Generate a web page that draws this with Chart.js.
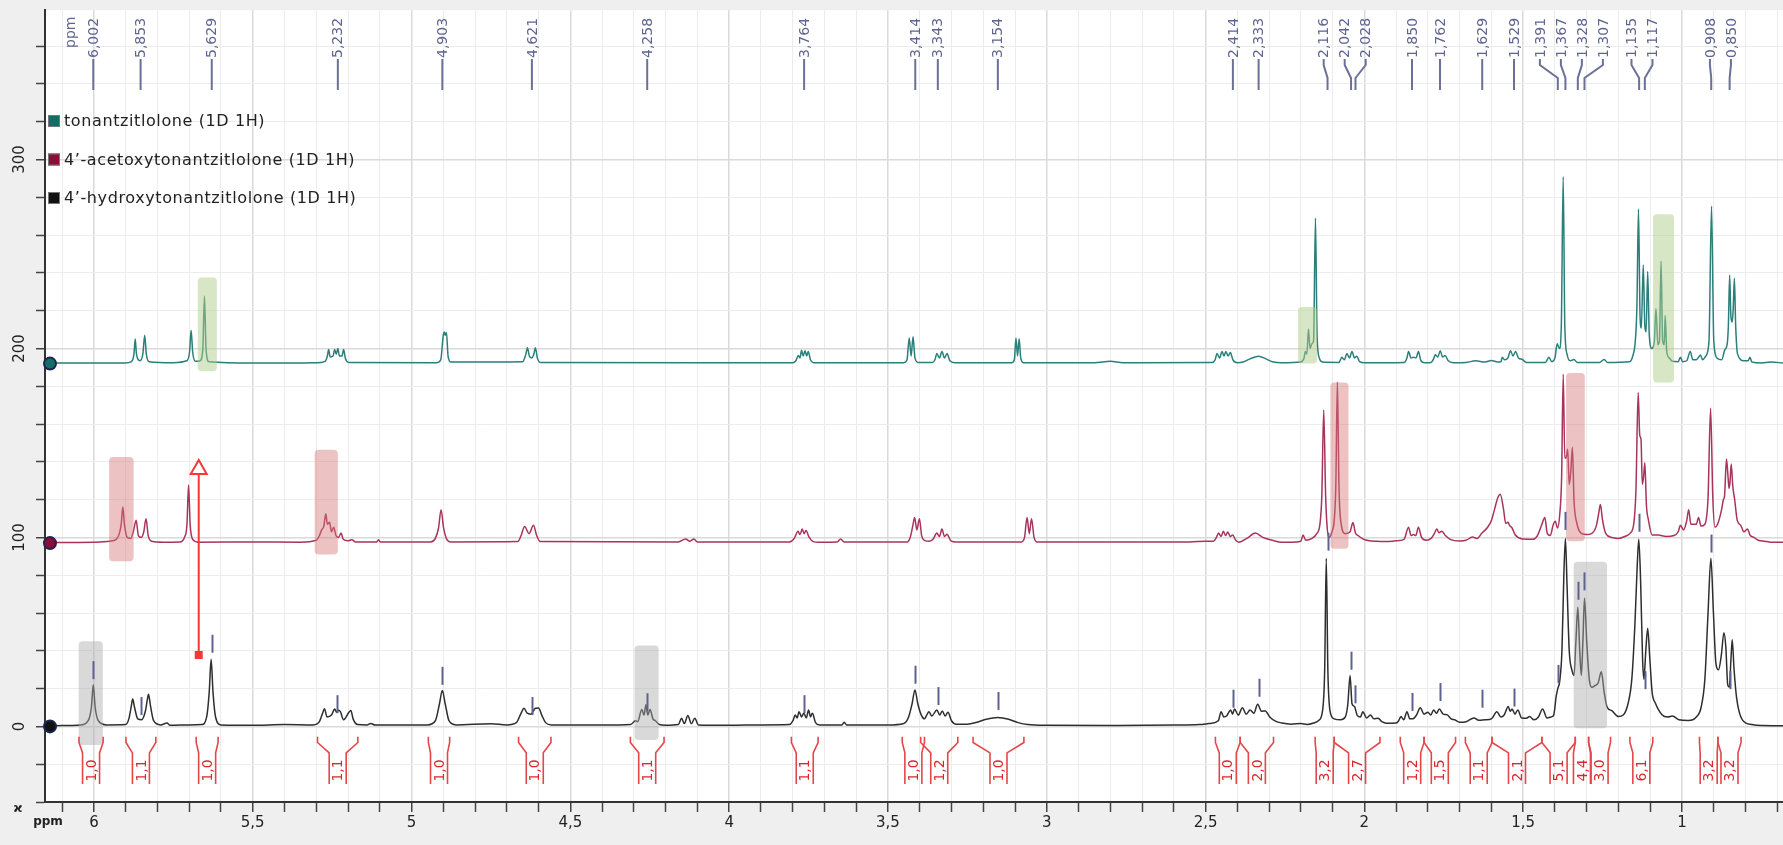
<!DOCTYPE html>
<html>
<head>
<meta charset="utf-8">
<script src="https://cdn.jsdelivr.net/npm/chart.js@4.4.1/dist/chart.umd.min.js"></script>
<style>
  html, body { margin: 0; padding: 0; background: #efefef; }
  canvas { display: block; }
</style>
</head>
<body>
<canvas id="nmr" width="1783" height="845"></canvas>
<script>
// stacked 1H spectra, [ppm, intensity above own baseline]
const tealPeaks = [
  [6.154, 0.3], [5.90, 0.3], [5.882, 1], [5.874, 5], [5.870, 13], [5.866, 5], [5.855, 1.5], [5.846, 5], [5.840, 15], [5.835, 5], [5.826, 1], [5.75, 0.5],
  [5.708, 1.5], [5.699, 6], [5.694, 17.7], [5.689, 6], [5.680, 1.2], [5.666, 1.5], [5.657, 8], [5.652, 35.7], [5.647, 8], [5.638, 1], [5.50, 0.3], [5.30, 0.4],
  [5.272, 1.2], [5.265, 4], [5.261, 7.4], [5.256, 3.5], [5.247, 4], [5.242, 7.4], [5.237, 5], [5.232, 8], [5.227, 4], [5.219, 4], [5.214, 7.4], [5.208, 2.5], [5.198, 0.6],
  [4.92, 0.5], [4.908, 2], [4.900, 15], [4.897, 16.7], [4.894, 15], [4.890, 16.5], [4.885, 4], [4.876, 0.8],
  [4.65, 1], [4.640, 5], [4.635, 8.4], [4.629, 4], [4.622, 3], [4.615, 5], [4.610, 8.4], [4.604, 3], [4.595, 0.6],
  [3.80, 0.5], [3.790, 1.5], [3.782, 4.3], [3.777, 3], [3.772, 7.0], [3.767, 4], [3.761, 6.8], [3.756, 4], [3.751, 6.4], [3.744, 2], [3.735, 0.5],
  [3.45, 0.5], [3.440, 2], [3.433, 13.6], [3.427, 4], [3.421, 14.2], [3.415, 3], [3.405, 0.6],
  [3.36, 0.6], [3.352, 2], [3.346, 5.3], [3.338, 3], [3.330, 6.4], [3.322, 3], [3.314, 5.3], [3.305, 1.5], [3.29, 0.5],
  [3.11, 0.5], [3.102, 2], [3.097, 13.6], [3.092, 4], [3.087, 13.2], [3.082, 3], [3.074, 0.5],
  [2.85, 0.4], [2.80, 1.2], [2.76, 0.4],
  [2.48, 0.6], [2.470, 2], [2.464, 5.3], [2.456, 3], [2.448, 6.4], [2.442, 4], [2.436, 6.4], [2.429, 4], [2.422, 5.8], [2.414, 2], [2.40, 0.5],
  [2.38, 1], [2.36, 2.5], [2.333, 3.9], [2.31, 2.5], [2.29, 1], [2.26, 0.4],
  [2.20, 0.8], [2.190, 3], [2.186, 6.4], [2.181, 5], [2.176, 18.3], [2.171, 8], [2.165, 10.5], [2.160, 12], [2.154, 77], [2.149, 15], [2.142, 3], [2.132, 0.8],
  [2.08, 0.6], [2.071, 3.3], [2.063, 2], [2.055, 5.3], [2.047, 3], [2.039, 6.4], [2.031, 3], [2.024, 3.9], [2.015, 1], [2.00, 0.4],
  [1.875, 0.6], [1.866, 3], [1.861, 6.4], [1.853, 3], [1.845, 3.3], [1.837, 3], [1.830, 6.4], [1.822, 1.5], [1.81, 0.4],
  [1.79, 0.6], [1.782, 2.5], [1.777, 4.7], [1.769, 3.5], [1.761, 6.8], [1.754, 3.5], [1.746, 4.3], [1.736, 1.5], [1.72, 0.5],
  [1.68, 0.6], [1.65, 1.5], [1.62, 0.8], [1.60, 1.6], [1.58, 0.8],
  [1.570, 1], [1.566, 3.3], [1.558, 2], [1.548, 3], [1.540, 6.8], [1.532, 4], [1.524, 6.4], [1.515, 3], [1.503, 2.2], [1.49, 0.6],
  [1.43, 0.6], [1.419, 3.3], [1.410, 1], [1.400, 3], [1.393, 10.5], [1.386, 8], [1.380, 20], [1.374, 98.9], [1.369, 20], [1.362, 5], [1.352, 1.5], [1.340, 2.2], [1.330, 0.6],
  [1.26, 0.6], [1.245, 2.2], [1.235, 0.6],
  [1.165, 1], [1.155, 4], [1.147, 12], [1.142, 30], [1.137, 81.8], [1.132, 25], [1.128, 18.8], [1.122, 52.2], [1.117, 20], [1.113, 16.7], [1.108, 48.7], [1.103, 15],
  [1.095, 8], [1.087, 12], [1.082, 29.1], [1.076, 10], [1.071, 12], [1.066, 54.3], [1.061, 12], [1.056, 10], [1.053, 25.4], [1.048, 6.4], [1.040, 3], [1.030, 1.2],
  [1.012, 1], [1.005, 3.3], [0.998, 1], [0.985, 1.5], [0.974, 6.4], [0.966, 2], [0.955, 2], [0.948, 3.3], [0.942, 4.5], [0.935, 2],
  [0.925, 4], [0.915, 12], [0.907, 83.2], [0.900, 12], [0.890, 3], [0.875, 2], [0.865, 7.4], [0.858, 10], [0.854, 20], [0.850, 46.7], [0.846, 25], [0.842, 22],
  [0.839, 28], [0.835, 45.2], [0.831, 20], [0.825, 5], [0.805, 1.5], [0.792, 1.5], [0.786, 3.3], [0.780, 0.8], [0.75, 0.3], [0.72, 0.8], [0.682, 0.3]
];

const crimsonPeaks = [
  [6.154, 0.3], [6.00, 0.5], [5.95, 1], [5.93, 2], [5.920, 5], [5.914, 10], [5.909, 19.1], [5.904, 10], [5.895, 3], [5.884, 2.5], [5.876, 6], [5.867, 12.1], [5.860, 4],
  [5.851, 3], [5.843, 6], [5.836, 12.9], [5.829, 4], [5.818, 1], [5.78, 0.5], [5.73, 0.6], [5.715, 3], [5.707, 10], [5.702, 30.7], [5.697, 10], [5.689, 2], [5.67, 0.5],
  [5.50, 0.6], [5.35, 0.5], [5.30, 1.5], [5.290, 4], [5.283, 7], [5.276, 9], [5.270, 15.6], [5.265, 10], [5.258, 11], [5.252, 6], [5.245, 8.4], [5.238, 4], [5.230, 3],
  [5.222, 5.3], [5.215, 2], [5.20, 1.2], [5.188, 1.8], [5.176, 0.6], [5.110, 0.6], [5.104, 1.8], [5.098, 0.6],
  [4.94, 0.6], [4.925, 2.5], [4.915, 8], [4.907, 17.7], [4.899, 8], [4.889, 2], [4.875, 0.6],
  [4.665, 0.8], [4.655, 4], [4.644, 8.8], [4.630, 5], [4.616, 9.4], [4.606, 4], [4.595, 0.8],
  [4.16, 0.6], [4.137, 2.2], [4.124, 1], [4.111, 2.2], [4.10, 0.6],
  [3.81, 0.6], [3.795, 2.5], [3.783, 6.3], [3.777, 4.5], [3.770, 7.4], [3.764, 5], [3.758, 6.7], [3.748, 3], [3.735, 0.8], [3.72, 0.5],
  [3.66, 0.6], [3.649, 2.2], [3.638, 0.6],
  [3.44, 0.6], [3.430, 3], [3.422, 9], [3.416, 13.6], [3.409, 7], [3.401, 12.9], [3.394, 4], [3.385, 1.5], [3.37, 1],
  [3.358, 2], [3.346, 5.3], [3.338, 3.5], [3.330, 7.4], [3.322, 3.5], [3.314, 4.7], [3.302, 1.2], [3.285, 0.6],
  [3.08, 0.6], [3.070, 3], [3.062, 13.6], [3.055, 5], [3.048, 12.9], [3.040, 3], [3.030, 0.6],
  [2.55, 0.6], [2.50, 1], [2.475, 1], [2.466, 3], [2.459, 5.3], [2.451, 3.5], [2.444, 6.3], [2.437, 4], [2.430, 5.9], [2.422, 3.5], [2.415, 4.3], [2.405, 1.5],
  [2.395, 0.5], [2.37, 2.5], [2.343, 5.3], [2.32, 3], [2.29, 1.5], [2.26, 0.4], [2.23, 0.5], [2.20, 1], [2.193, 4.3], [2.185, 1.5], [2.165, 2.5], [2.150, 5],
  [2.140, 10], [2.134, 25], [2.128, 70.4], [2.122, 25], [2.117, 8], [2.111, 3], [2.102, 6], [2.095, 12], [2.090, 30], [2.085, 85.2], [2.080, 30], [2.073, 10],
  [2.060, 5], [2.045, 6], [2.036, 10.9], [2.028, 5.3], [2.020, 4], [2.005, 2.2], [1.985, 1.2], [1.960, 1], [1.930, 0.8], [1.90, 1.2],
  [1.875, 2], [1.861, 8.4], [1.853, 4], [1.845, 4.5], [1.838, 4], [1.830, 8.4], [1.820, 3], [1.805, 1.5],
  [1.790, 2.5], [1.780, 5], [1.772, 7.4], [1.765, 5.5], [1.756, 6.3], [1.745, 4], [1.73, 2], [1.70, 1.1], [1.68, 1.5], [1.66, 3.2], [1.645, 2.5], [1.630, 5.3],
  [1.612, 8.4], [1.600, 12], [1.590, 18], [1.580, 24], [1.572, 25.9], [1.562, 18], [1.555, 10.5], [1.548, 11], [1.543, 9.4], [1.535, 8], [1.525, 4.3], [1.500, 2.2],
  [1.470, 2], [1.455, 4], [1.441, 10], [1.432, 13.6], [1.424, 5], [1.415, 4], [1.405, 10], [1.399, 11.5], [1.392, 8], [1.385, 15], [1.379, 35], [1.374, 89.4],
  [1.369, 45], [1.365, 45], [1.360, 49.7], [1.355, 31], [1.350, 38], [1.345, 50.7], [1.340, 22.8], [1.331, 10.5], [1.318, 5.3], [1.300, 4.5], [1.285, 5],
  [1.270, 9], [1.262, 16], [1.257, 20.4], [1.250, 12], [1.240, 5], [1.220, 3], [1.200, 2.5], [1.180, 3.5], [1.163, 5.3], [1.152, 10], [1.145, 28], [1.138, 79.7],
  [1.133, 57], [1.129, 55], [1.125, 31.1], [1.121, 35], [1.117, 42.5], [1.112, 20], [1.106, 12.5], [1.094, 4.3], [1.075, 4.3], [1.050, 3.5], [1.025, 4],
  [1.012, 6], [1.005, 9.4], [0.995, 7], [0.985, 12], [0.979, 17.7], [0.972, 10], [0.964, 10], [0.955, 10], [0.948, 13.6], [0.940, 9], [0.928, 10], [0.918, 24],
  [0.910, 71.4], [0.903, 24], [0.896, 8.4], [0.888, 10], [0.875, 18], [0.870, 22.8], [0.866, 25], [0.860, 44.5], [0.855, 35], [0.852, 29], [0.849, 32],
  [0.845, 41.9], [0.840, 30], [0.834, 22.8], [0.826, 12], [0.815, 9.4], [0.805, 6], [0.794, 7.4], [0.785, 4], [0.775, 3.2], [0.76, 1.5], [0.74, 1], [0.72, 0.5], [0.682, 0.4]
];

const blackPeaks = [
  [6.154, 0.3], [6.10, 0.5], [6.04, 0.8], [6.018, 3], [6.008, 10], [6.002, 22], [5.996, 10], [5.986, 3], [5.96, 0.8],
  [5.90, 1], [5.890, 4], [5.882, 11], [5.878, 14.5], [5.872, 10], [5.862, 4], [5.850, 3.5], [5.838, 8], [5.832, 14], [5.828, 17], [5.822, 11], [5.812, 3], [5.79, 0.8],
  [5.77, 1.8], [5.76, 0.6], [5.70, 0.8], [5.66, 1], [5.645, 5], [5.637, 18], [5.631, 35.5], [5.625, 18], [5.617, 5], [5.60, 0.8],
  [5.50, 0.6], [5.40, 1], [5.31, 0.8], [5.29, 2.5], [5.280, 7], [5.274, 9.4], [5.266, 5], [5.252, 6], [5.242, 9.2], [5.236, 7.5], [5.230, 8.5], [5.224, 7.8],
  [5.214, 3.5], [5.197, 7.5], [5.191, 8.4], [5.184, 4], [5.17, 1], [5.14, 0.8], [5.128, 1.6], [5.115, 0.7],
  [4.95, 0.8], [4.925, 3], [4.912, 12], [4.903, 19], [4.894, 12], [4.882, 3], [4.86, 0.8],
  [4.75, 1.4], [4.70, 0.8], [4.67, 2], [4.655, 7], [4.646, 9.6], [4.636, 7], [4.624, 6.5], [4.610, 9.6], [4.600, 9.8], [4.590, 6], [4.578, 2], [4.56, 0.8],
  [4.40, 0.7], [4.31, 1], [4.295, 3], [4.288, 2.5], [4.275, 9], [4.268, 6], [4.262, 11.5], [4.256, 6], [4.249, 9], [4.240, 4], [4.232, 3], [4.22, 1], [4.20, 0.6],
  [4.16, 1], [4.150, 4.3], [4.141, 1.5], [4.130, 5.8], [4.119, 1.5], [4.108, 4.3], [4.097, 0.8],
  [4.00, 0.6], [3.90, 0.8], [3.81, 1], [3.798, 3.5], [3.792, 6.1], [3.786, 4.5], [3.780, 7.8], [3.772, 5], [3.765, 7.0], [3.757, 4.5], [3.750, 8.7], [3.744, 5],
  [3.738, 7.0], [3.728, 2], [3.715, 0.8], [3.645, 0.8], [3.638, 2.2], [3.630, 0.8],
  [3.50, 0.7], [3.45, 1.5], [3.435, 5], [3.424, 12], [3.415, 19.3], [3.406, 12], [3.395, 6], [3.385, 4], [3.378, 6], [3.371, 7.8], [3.362, 5.5], [3.346, 8.7],
  [3.337, 6], [3.329, 8.2], [3.320, 5.5], [3.311, 7.5], [3.300, 3], [3.285, 1.2],
  [3.25, 1.2], [3.22, 2.2], [3.19, 3.8], [3.154, 4.7], [3.12, 3.8], [3.09, 2], [3.06, 1], [3.0, 0.6],
  [2.80, 0.5], [2.60, 0.7], [2.52, 1], [2.49, 1.5], [2.46, 3], [2.451, 7.8], [2.443, 5], [2.434, 5.5], [2.421, 8.7], [2.415, 6.5], [2.409, 9.2], [2.397, 6],
  [2.384, 9.9], [2.372, 6.5], [2.360, 8.7], [2.348, 7], [2.336, 11.7], [2.324, 8], [2.312, 8.2], [2.298, 5], [2.28, 2.8], [2.26, 1.8], [2.23, 1.2], [2.20, 1.5],
  [2.18, 1], [2.16, 1.8], [2.145, 3], [2.132, 8], [2.125, 30], [2.120, 89], [2.115, 30], [2.108, 8], [2.095, 4], [2.075, 3.5], [2.060, 5], [2.052, 12],
  [2.045, 27], [2.039, 12], [2.031, 10.5], [2.023, 6], [2.012, 5], [2.005, 7.8], [1.993, 4.5], [1.981, 6.1], [1.970, 4], [1.957, 4.3], [1.945, 2.5], [1.93, 1.7], [1.90, 1.8],
  [1.892, 3], [1.885, 5.2], [1.876, 3.5], [1.866, 7.8], [1.857, 4], [1.848, 4.0], [1.836, 6], [1.824, 9.9], [1.812, 6.5], [1.800, 7.5], [1.791, 6], [1.782, 8.7],
  [1.773, 7], [1.764, 9.2], [1.752, 6.5], [1.739, 6.1], [1.727, 4], [1.716, 3.5], [1.70, 2.2], [1.68, 2.5], [1.655, 4.5], [1.640, 3.2], [1.62, 3.5], [1.60, 4],
  [1.583, 7.8], [1.570, 5], [1.560, 6], [1.547, 10.5], [1.541, 8], [1.535, 9.2], [1.526, 6.5], [1.517, 8.7], [1.505, 4.5], [1.490, 4.3], [1.480, 5.2], [1.466, 3.5],
  [1.452, 5], [1.439, 9.2], [1.425, 4.5], [1.412, 5], [1.404, 6], [1.396, 16], [1.391, 20], [1.385, 24], [1.378, 40], [1.372, 80], [1.367, 99.5], [1.362, 75],
  [1.355, 40], [1.347, 30], [1.340, 27], [1.334, 45], [1.328, 63], [1.322, 40], [1.317, 27], [1.312, 45], [1.307, 68], [1.300, 45], [1.292, 25], [1.284, 20.7],
  [1.273, 21.7], [1.264, 23], [1.254, 28.9], [1.245, 18], [1.236, 10.3], [1.221, 8.3], [1.200, 5.2], [1.185, 6], [1.170, 12], [1.158, 25], [1.148, 55], [1.141, 85],
  [1.136, 99], [1.130, 75], [1.124, 35], [1.120, 25], [1.114, 40], [1.108, 52], [1.101, 35], [1.094, 18], [1.084, 12.4], [1.063, 6.2], [1.045, 5], [1.030, 5.5],
  [1.010, 3.5], [0.98, 3.1], [0.955, 5], [0.940, 10], [0.928, 25], [0.918, 60], [0.909, 89], [0.901, 60], [0.893, 33], [0.885, 30], [0.876, 38], [0.868, 49.6],
  [0.862, 42], [0.856, 22], [0.851, 20.7], [0.846, 35], [0.842, 45.9], [0.836, 30], [0.828, 15], [0.81, 3.5], [0.78, 1], [0.75, 0.5], [0.682, 0.4]
];

const traceNames = ['tonantzitlolone (1D 1H)', "4’-acetoxytonantzitlolone (1D 1H)", "4’-hydroxytonantzitlolone (1D 1H)"];
const traceOffsets = [192, 97, 0];

// picked peaks, shown as rotated labels along the top
const peakLabelPpm = [6.002, 5.853, 5.629, 5.232, 4.903, 4.621, 4.258, 3.764, 3.414, 3.343, 3.154,
  2.414, 2.333, 2.116, 2.042, 2.028, 1.850, 1.762, 1.629, 1.529, 1.391, 1.367, 1.328, 1.307, 1.135, 1.117, 0.908, 0.850];
// [ppm, intensity where the peak tick starts]
const peakTicks = [[6.002, 25], [5.853, 6], [5.629, 39], [5.236, 7], [4.903, 22], [4.621, 6], [4.258, 8], [3.764, 7], [3.414, 22.6],
  [3.343, 11.3], [3.154, 8.7], [2.414, 9.9], [2.333, 15.7], [2.116, 93], [2.042, 30], [2.028, 12.2], [1.850, 8.2], [1.762, 13.4],
  [1.629, 9.9], [1.529, 10.5], [1.391, 23], [1.367, 104], [1.328, 67], [1.307, 72], [1.135, 103], [1.117, 19.7], [0.908, 92], [0.850, 19.7]];

// integrals: ppm from, ppm to, value
const integralFrom = [6.047, 5.899, 5.678, 5.296, 4.947, 4.663, 4.311, 3.804, 3.455, 3.397, 3.232, 2.469, 2.391, 2.155, 2.095, 1.887, 1.812, 1.682, 1.598, 1.441, 1.336, 1.294, 1.164, 0.945, 0.887];
const integralTo   = [5.971, 5.805, 5.609, 5.169, 4.880, 4.561, 4.205, 3.720, 3.385, 3.280, 3.072, 2.391, 2.286, 2.095, 1.951, 1.812, 1.713, 1.598, 1.441, 1.336, 1.294, 1.225, 1.092, 0.887, 0.814];
const integralValue = ['1,0', '1,1', '1,0', '1,1', '1,0', '1,0', '1,1', '1,1', '1,0', '1,2', '1,0', '1,0', '2,0', '3,2', '2,7', '1,2', '1,5', '1,1', '2,1', '5,1', '4,4', '3,0', '6,1', '3,2', '3,2'];

// highlighted regions: ppm from, ppm to, low, high, trace
const regions = [
  [5.673, 5.613, 188, 237.6, 0], [2.209, 2.149, 192, 222, 0], [1.091, 1.025, 182, 271, 0],
  [5.952, 5.875, 87.4, 142.6, 1], [5.305, 5.232, 91, 146.4, 1], [2.107, 2.050, 94, 182, 1], [1.365, 1.306, 98, 187, 1],
  [6.048, 5.972, -9.9, 45, 2], [4.298, 4.222, -7.2, 42.8, 2], [1.341, 1.236, -1, 87.2, 2]
];

// arrow from the 4'-hydroxy trace up to the acetoxy trace
const arrowPpm = 5.670;
const arrowFrom = 37.8;
const arrowTo = 141;

const lineColors = ['#2a7f7a', '#a8335c', '#2e2e2e'];
const swatchColors = ['#146e68', '#8c0c38', '#111111'];
const regionColors = ['rgba(176, 206, 138, 0.5)', 'rgba(212, 120, 120, 0.45)', 'rgba(170, 170, 170, 0.45)'];
const FONT = 'DejaVu Sans';

const isHalf = v => Math.abs(v * 2 - Math.round(v * 2)) < 1e-6;

function spreadLabels(xs, gap) {
  let groups = xs.map(x => ({ xs: [x], pos: [x] }));
  let merged = true;
  while (merged) {
    merged = false;
    for (let i = 0; i < groups.length - 1; i++) {
      const g = groups[i], h = groups[i + 1];
      if (h.pos[0] - g.pos[g.pos.length - 1] < gap) {
        const all = g.xs.concat(h.xs);
        const mean = all.reduce((s, v) => s + v, 0) / all.length;
        const start = mean - (all.length - 1) * gap / 2;
        groups.splice(i, 2, { xs: all, pos: all.map((_, k) => start + k * gap) });
        merged = true;
        break;
      }
    }
  }
  return groups.flatMap(g => g.pos);
}

function roundRect(ctx, x, y, w, h, r) {
  ctx.beginPath();
  ctx.moveTo(x + r, y);
  ctx.arcTo(x + w, y, x + w, y + h, r);
  ctx.arcTo(x + w, y + h, x, y + h, r);
  ctx.arcTo(x, y + h, x, y, r);
  ctx.arcTo(x, y, x + w, y, r);
  ctx.closePath();
}

const decorations = {
  id: 'decorations',
  beforeDraw(chart) {
    const { ctx, chartArea: a } = chart;
    ctx.save();
    ctx.fillStyle = '#efefef';
    ctx.fillRect(0, 0, chart.width, chart.height);
    ctx.fillStyle = '#ffffff';
    ctx.fillRect(a.left, a.top, a.right - a.left, a.bottom - a.top);
    ctx.restore();
  },
  afterDatasetsDraw(chart) {
    const { ctx, chartArea: a } = chart;
    const x = chart.scales.x, y = chart.scales.y;
    ctx.save();

    // highlighted regions
    regions.forEach(([p1, p2, lo, hi, t]) => {
      const x1 = x.getPixelForValue(p1), x2 = x.getPixelForValue(p2);
      const y1 = y.getPixelForValue(hi), y2 = y.getPixelForValue(lo);
      ctx.fillStyle = regionColors[t];
      roundRect(ctx, x1, y1, x2 - x1, y2 - y1, 4);
      ctx.fill();
    });

    // peak ticks on the lower trace
    ctx.strokeStyle = '#5d6290';
    ctx.lineWidth = 2;
    peakTicks.forEach(([p, v]) => {
      const px = Math.round(x.getPixelForValue(p)) + 0.5;
      const py = y.getPixelForValue(v);
      ctx.beginPath();
      ctx.moveTo(px, py);
      ctx.lineTo(px, py - 18);
      ctx.stroke();
    });

    // integrals
    ctx.strokeStyle = '#e4474a';
    ctx.lineWidth = 1.6;
    const yTop = y.getPixelForValue(-5.5), yKnee = y.getPixelForValue(-8.5);
    const yBend = y.getPixelForValue(-14), yBot = y.getPixelForValue(-30.5);
    integralFrom.forEach((from, i) => {
      const xa = x.getPixelForValue(from), xb = x.getPixelForValue(integralTo[i]);
      const xc = (xa + xb) / 2, w = 8.5;
      ctx.beginPath();
      ctx.moveTo(xa, yTop); ctx.lineTo(xa, yKnee); ctx.lineTo(xc - w, yBend); ctx.lineTo(xc - w, yBot);
      ctx.moveTo(xb, yTop); ctx.lineTo(xb, yKnee); ctx.lineTo(xc + w, yBend); ctx.lineTo(xc + w, yBot);
      ctx.stroke();
      ctx.save();
      ctx.translate(xc + 1, (yBend + yBot) / 2 + 2);
      ctx.rotate(-Math.PI / 2);
      ctx.fillStyle = '#d9282b';
      ctx.font = '14px ' + FONT;
      ctx.textAlign = 'center';
      ctx.textBaseline = 'middle';
      ctx.fillText(integralValue[i], 0, 0);
      ctx.restore();
    });

    // arrow
    const ax = x.getPixelForValue(arrowPpm);
    const ay0 = y.getPixelForValue(arrowFrom), ay1 = y.getPixelForValue(arrowTo);
    ctx.strokeStyle = '#f03a3a';
    ctx.fillStyle = '#f03a3a';
    ctx.lineWidth = 2;
    ctx.beginPath();
    ctx.moveTo(ax, ay0);
    ctx.lineTo(ax, ay1 + 14);
    ctx.stroke();
    ctx.fillRect(ax - 4, ay0 - 4, 8, 8);
    ctx.beginPath();
    ctx.moveTo(ax, ay1);
    ctx.lineTo(ax + 8, ay1 + 14);
    ctx.lineTo(ax - 8, ay1 + 14);
    ctx.closePath();
    ctx.fillStyle = '#ffffff';
    ctx.fill();
    ctx.stroke();

    // peak labels along the top
    const peakX = peakLabelPpm.map(p => x.getPixelForValue(p));
    const textX = spreadLabels(peakX, 21);
    ctx.strokeStyle = '#6b7099';
    ctx.fillStyle = '#5f6490';
    ctx.lineWidth = 2;
    ctx.font = '14px ' + FONT;
    peakLabelPpm.forEach((p, i) => {
      const tx = textX[i], px = peakX[i];
      ctx.beginPath();
      ctx.moveTo(tx, 59);
      if (Math.abs(tx - px) > 1) {
        ctx.lineTo(tx, 65);
        ctx.lineTo(px, 78);
      }
      ctx.lineTo(px, 90);
      ctx.stroke();
      ctx.save();
      ctx.translate(tx + 1, 58);
      ctx.rotate(-Math.PI / 2);
      ctx.textAlign = 'left';
      ctx.textBaseline = 'middle';
      ctx.fillText(p.toFixed(3).replace('.', ','), 0, 0);
      ctx.restore();
    });
    ctx.save();
    ctx.translate(71, 48);
    ctx.rotate(-Math.PI / 2);
    ctx.textAlign = 'left';
    ctx.textBaseline = 'middle';
    ctx.fillText('ppm', 0, 0);
    ctx.restore();

    // legend
    ctx.font = '16px ' + FONT;
    ctx.letterSpacing = '0.6px';
    ctx.textBaseline = 'middle';
    ctx.textAlign = 'left';
    [121, 159.5, 198].forEach((ly, i) => {
      ctx.fillStyle = swatchColors[i];
      ctx.fillRect(48, ly - 6, 12, 12);
      ctx.strokeStyle = '#777';
      ctx.lineWidth = 1;
      ctx.strokeRect(48.5, ly - 5.5, 11, 11);
      ctx.fillStyle = '#222';
      ctx.fillText(traceNames[i], 64, ly + 1);
    });
    ctx.letterSpacing = '0px';

    // baseline handles on the axis
    traceOffsets.forEach((off, i) => {
      const py = y.getPixelForValue(off);
      ctx.beginPath();
      ctx.arc(a.left + 5, py, 6, 0, Math.PI * 2);
      ctx.fillStyle = swatchColors[i];
      ctx.fill();
      ctx.strokeStyle = '#1b2550';
      ctx.lineWidth = 2;
      ctx.stroke();
    });

    // rotated y labels
    ctx.fillStyle = '#222';
    ctx.font = '15px ' + FONT;
    ctx.textAlign = 'center';
    [0, 100, 200, 300].forEach(v => {
      ctx.save();
      ctx.translate(20, y.getPixelForValue(v));
      ctx.rotate(-Math.PI / 2);
      ctx.fillText(String(v), 0, 0);
      ctx.restore();
    });

    // unit label under the axes corner
    ctx.font = 'bold 12px ' + FONT;
    ctx.fillText('ppm', 48, 822);
    ctx.fillText('ϰ', 18, 809);
    ctx.restore();
  }
};

const datasets = [tealPeaks, crimsonPeaks, blackPeaks].map((pts, i) => ({
  label: traceNames[i],
  data: pts.map(([p, v]) => ({ x: p, y: v + traceOffsets[i] })),
  borderColor: lineColors[i],
  borderWidth: 1.5,
  pointRadius: 0,
  fill: false,
  cubicInterpolationMode: 'monotone'
}));

new Chart(document.getElementById('nmr'), {
  type: 'line',
  data: { datasets },
  options: {
    responsive: false,
    animation: false,
    layout: { padding: 0 },
    plugins: { legend: { display: false }, tooltip: { enabled: false } },
    scales: {
      x: {
        type: 'linear',
        reverse: true,
        min: 0.682,
        max: 6.154,
        afterFit(scale) { scale.height = 43; },
        ticks: {
          stepSize: 0.1,
          includeBounds: false,
          autoSkip: false,
          maxRotation: 0,
          padding: 2,
          color: '#222',
          font: { family: FONT, size: 15 },
          callback: v => isHalf(v) ? String(+v.toFixed(1)).replace('.', ',') : ''
        },
        grid: {
          color: c => (c.tick && isHalf(c.tick.value)) ? '#dadada' : '#ececec',
          lineWidth: c => (c.tick && isHalf(c.tick.value)) ? 1.5 : 1,
          tickColor: '#444',
          tickLength: 10,
          tickWidth: 1.5
        },
        border: { color: '#333', width: 2 }
      },
      y: {
        min: -40,
        max: 379,
        afterFit(scale) { scale.width = 45; },
        ticks: { stepSize: 20, includeBounds: false, callback: () => '' },
        grid: {
          color: c => (c.tick && c.tick.value % 100 === 0) ? '#dadada' : '#ececec',
          lineWidth: c => (c.tick && c.tick.value % 100 === 0) ? 1.5 : 1,
          tickColor: '#444',
          tickLength: 9,
          tickWidth: 1.5
        },
        border: { color: '#333', width: 2 }
      }
    }
  },
  plugins: [decorations]
});
</script>
</body>
</html>
